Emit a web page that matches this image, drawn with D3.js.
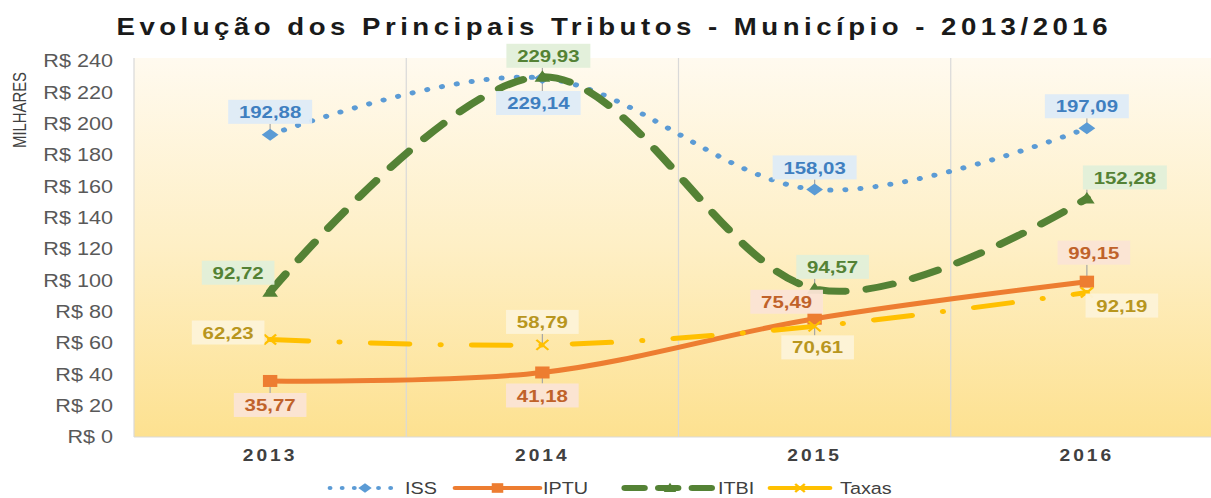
<!DOCTYPE html>
<html>
<head>
<meta charset="utf-8">
<script src="https://cdn.jsdelivr.net/npm/d3@7"></script>
<style>
  html, body { margin: 0; padding: 0; background: #fff; }
  svg { display: block; }
  text { font-family: "Liberation Sans", Arial, sans-serif; }
</style>
</head>
<body>
<svg id="chart" width="1211" height="498"></svg>
<script>
// data
const years = ['2013', '2014', '2015', '2016'];
const seriesNames = ['ISS', 'IPTU', 'ITBI', 'Taxas'];
const issValues = [192.88, 229.14, 158.03, 197.09];
const iptuValues = [35.77, 41.18, 75.49, 99.15];
const itbiValues = [92.72, 229.93, 94.57, 152.28];
const taxasValues = [62.23, 58.79, 70.61, 92.19];
const yTicks = [0, 20, 40, 60, 80, 100, 120, 140, 160, 180, 200, 220, 240];

// the picture is stretched sideways, so draw in a narrower space and stretch it
const S = 1.2;
const W = 1211 / S, H = 498;
const svg = d3.select('#chart')
  .attr('viewBox', `0 0 ${W} ${H}`)
  .attr('preserveAspectRatio', 'none');

const plotTop = 61, plotBottom = 437;
const x = d3.scaleBand().domain(years).range([134 / S, 1223 / S]);
const cx = d => x(d) + x.bandwidth() / 2;
const y = d3.scaleLinear().domain([0, 240]).range([plotBottom, plotTop]);

const styles = {
  ISS:   { color: '#5b9bd5', text: '#3f7fc0', box: '#deebf7', width: 5, dash: '0.1 12.5', legendDash: '0.1 10', marker: 'diamond' },
  IPTU:  { color: '#ed7d31', text: '#c0622a', box: '#fbe4d5', width: 5, dash: null, legendDash: null, marker: 'square' },
  ITBI:  { color: '#548235', text: '#548235', box: '#e2efd9', width: 7, dash: '22 18', legendDash: '16 12', marker: 'triangle' },
  Taxas: { color: '#ffc000', text: '#b8961e', box: '#fdf3d8', width: 5, dash: '32 26 0.1 26', legendDash: null, marker: 'x' }
};
const valuesBy = { ISS: issValues, IPTU: iptuValues, ITBI: itbiValues, Taxas: taxasValues };

// label offsets from the point, in screen pixels
const labelOffsets = {
  ISS:   [[0, -23], [-4, 25], [0, -22], [0, -22]],
  IPTU:  [[0, 24], [0, 23], [-28, -17], [7, -29]],
  ITBI:  [[-32, -19], [6, -21], [18, -22], [38, -21]],
  Taxas: [[-42, -7], [0, -23], [3, 21], [35, 13]]
};

// background gradient
const defs = svg.append('defs');
const grad = defs.append('linearGradient').attr('id', 'bg')
  .attr('x1', 0).attr('y1', 0).attr('x2', 0).attr('y2', 1);
grad.append('stop').attr('offset', '0%').attr('stop-color', '#fffaef');
grad.append('stop').attr('offset', '50%').attr('stop-color', '#feefc5');
grad.append('stop').attr('offset', '100%').attr('stop-color', '#fde190');

svg.append('rect')
  .attr('x', 134 / S).attr('y', plotTop - 3)
  .attr('width', W - 134 / S).attr('height', plotBottom - plotTop + 3)
  .attr('fill', 'url(#bg)');

// vertical separators and base line
svg.selectAll('.vgrid')
  .data(years)
  .enter().append('line')
  .attr('class', 'vgrid')
  .attr('x1', d => x(d)).attr('x2', d => x(d))
  .attr('y1', plotTop - 3).attr('y2', plotBottom)
  .attr('stroke', '#d9d9d9').attr('stroke-width', 1);

svg.append('line')
  .attr('x1', 134 / S).attr('x2', W)
  .attr('y1', plotBottom).attr('y2', plotBottom)
  .attr('stroke', '#d9d9d9').attr('stroke-width', 1);

// title
svg.append('text')
  .attr('x', 612 / S).attr('y', 35)
  .attr('text-anchor', 'middle')
  .attr('font-size', 23).attr('font-weight', 'bold')
  .attr('fill', '#1a1a1a')
  .attr('textLength', 991 / S).attr('lengthAdjust', 'spacing')
  .text('Evolução dos Principais Tributos - Município - 2013/2016');

// y axis labels
svg.selectAll('.ytick')
  .data(yTicks)
  .enter().append('text')
  .attr('class', 'ytick')
  .attr('x', 113 / S).attr('y', d => y(d))
  .attr('dy', '0.35em')
  .attr('text-anchor', 'end')
  .attr('font-size', 18)
  .attr('fill', '#595959')
  .text(d => 'R$ ' + d);

svg.append('text')
  .attr('transform', `translate(${26 / S},110) rotate(-90)`)
  .attr('text-anchor', 'middle')
  .attr('font-size', 16)
  .attr('fill', '#404040')
  .attr('textLength', 76).attr('lengthAdjust', 'spacingAndGlyphs')
  .text('MILHARES');

// x axis labels
svg.selectAll('.xtick')
  .data(years)
  .enter().append('text')
  .attr('class', 'xtick')
  .attr('x', d => cx(d)).attr('y', 461)
  .attr('text-anchor', 'middle')
  .attr('font-size', 16).attr('font-weight', 'bold')
  .attr('letter-spacing', 2.5)
  .attr('fill', '#404040')
  .text(d => d);

function drawMarker(g, type, color, k = 1) {
  if (type === 'diamond') {
    g.append('path').attr('d', `M0,${-6 * k}L${7 * k},0L0,${6 * k}L${-7 * k},0Z`).attr('fill', color);
  } else if (type === 'square') {
    g.append('rect').attr('x', -6 * k).attr('y', -6 * k).attr('width', 12 * k).attr('height', 12 * k).attr('fill', color);
  } else if (type === 'triangle') {
    g.append('path').attr('d', `M0,${-6.5 * k}L${6.5 * k},${5 * k}L${-6.5 * k},${5 * k}Z`).attr('fill', color);
  } else {
    g.append('path').attr('d', `M${-5 * k},${-5 * k}L${5 * k},${5 * k}M${-5 * k},${5 * k}L${5 * k},${-5 * k}`)
      .attr('stroke', color).attr('stroke-width', 2).attr('fill', 'none');
  }
}

const line = d3.line()
  .x((d, i) => cx(years[i]))
  .y(d => y(d))
  .curve(d3.curveCardinal.tension(0));

// draw order: ISS, ITBI, IPTU, Taxas so IPTU/Taxas sit on top
const drawOrder = ['ISS', 'ITBI', 'IPTU', 'Taxas'];
drawOrder.forEach(name => {
  const st = styles[name];
  const vals = valuesBy[name];
  svg.append('path')
    .datum(vals)
    .attr('d', line)
    .attr('fill', 'none')
    .attr('stroke', st.color)
    .attr('stroke-width', st.width)
    .attr('stroke-linecap', 'round')
    .attr('stroke-dasharray', st.dash);
  vals.forEach((v, i) => {
    drawMarker(svg.append('g').attr('transform', `translate(${cx(years[i])},${y(v)})`), st.marker, st.color);
  });
});

// data labels
const fmt = v => d3.format('.2f')(v).replace('.', ',');
drawOrder.forEach(name => {
  const st = styles[name];
  valuesBy[name].forEach((v, i) => {
    const px = cx(years[i]), py = y(v);
    const off = labelOffsets[name][i];
    const lx = px + off[0] / S, ly = py + off[1];
    const g = svg.append('g');
    const t = g.append('text')
      .attr('x', lx).attr('y', ly).attr('dy', '0.36em')
      .attr('text-anchor', 'middle')
      .attr('font-size', 17).attr('font-weight', 'bold')
      .attr('fill', st.text)
      .text(fmt(v));
    const bb = t.node().getBBox();
    const bw = bb.width + 18, bh = 24;
    const bx = lx - bw / 2, by = ly - bh / 2;
    g.insert('rect', 'text')
      .attr('x', bx).attr('y', by).attr('width', bw).attr('height', bh)
      .attr('fill', st.box).attr('opacity', 0.95);
    // leader line when the box is away from the point
    const nx = Math.max(bx, Math.min(px, bx + bw));
    const ny = Math.max(by, Math.min(py, by + bh));
    const dist = Math.hypot((nx - px) * S, ny - py);
    if (dist > 7) {
      svg.insert('line', 'g')
        .attr('x1', nx).attr('y1', ny).attr('x2', px).attr('y2', py)
        .attr('stroke', '#a6a6a6').attr('stroke-width', 1);
    }
  });
});

// legend (screen positions: line start, line end, text x)
const legendLayout = [[330, 400, 405], [455, 540, 543], [625, 715, 718], [770, 830, 840]];
const ly0 = 488;
seriesNames.forEach((name, i) => {
  const st = styles[name];
  const [a, b, tx] = legendLayout[i];
  svg.append('line')
    .attr('x1', a / S).attr('x2', b / S).attr('y1', ly0).attr('y2', ly0)
    .attr('stroke', st.color).attr('stroke-width', st.width - 1)
    .attr('stroke-linecap', 'round')
    .attr('stroke-dasharray', st.legendDash);
  drawMarker(svg.append('g').attr('transform', `translate(${(a + b) / 2 / S},${ly0})`), st.marker, st.color, 0.8);
  svg.append('text')
    .attr('x', tx / S).attr('y', ly0).attr('dy', '0.35em')
    .attr('font-size', 16.5).attr('fill', '#404040')
    .text(name);
});
</script>
</body>
</html>
